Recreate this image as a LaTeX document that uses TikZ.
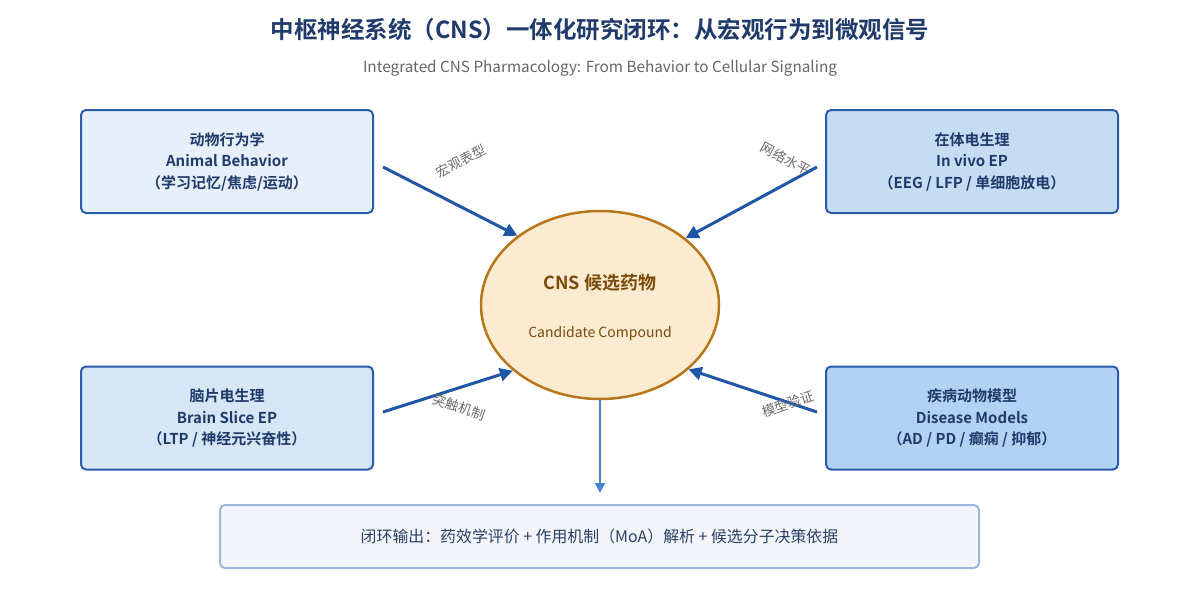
\documentclass[tikz,border=0pt]{standalone}
\usepackage{fontspec}
\setmainfont{Noto Sans CJK SC}[BoldFont={* Bold}]
\usetikzlibrary{arrows.meta,shapes.geometric}
\definecolor{navy}{HTML}{1F3A6B}
\definecolor{edgeblue}{HTML}{2A5CAA}
\definecolor{arrblue}{HTML}{1F56A8}
\definecolor{downblue}{HTML}{4A86D0}
\definecolor{fTL}{HTML}{E6EFFA}
\definecolor{fTR}{HTML}{C5DCF3}
\definecolor{fBL}{HTML}{D6E6F7}
\definecolor{fBR}{HTML}{B3D1F2}
\definecolor{ellfill}{HTML}{FCEBD0}
\definecolor{ellline}{HTML}{B8761A}
\definecolor{brown}{HTML}{7A4A0A}
\definecolor{outfill}{HTML}{F2F6FC}
\definecolor{outline}{HTML}{9BB5DC}
\definecolor{outtext}{HTML}{2A3F66}
\tikzset{
  modbox/.style={draw=edgeblue, line width=2pt, rounded corners=5pt, minimum width=292pt, minimum height=103pt, align=center, text=navy, font=\bfseries\fontsize{15}{21.5}\selectfont, inner sep=0pt},
  flow/.style={draw=arrblue, line width=3pt, -{Triangle[length=13pt,width=13pt]}},
  elabel/.style={text=gray!85!black, font=\fontsize{13.5}{15}\selectfont, inner sep=1pt}
}
\begin{document}
\begin{tikzpicture}[x=1pt,y=-1pt]
\useasboundingbox (0,0) rectangle (1200,600);
\fill[white] (0,0) rectangle (1200,600);
\node[text=navy, font=\bfseries\fontsize{23.5}{27}\selectfont] (title) at (600,30) {中枢神经系统（CNS）一体化研究闭环：从宏观行为到微观信号};
\node[text=gray!80!black, font=\fontsize{15.3}{18}\selectfont] (sub) at (600,68) {Integrated CNS Pharmacology: From Behavior to Cellular Signaling};

\node[modbox, fill=fTL] (tl) at (227,161.5) {动物行为学\\Animal Behavior\\（学习记忆/焦虑/运动）};
\node[modbox, fill=fTR] (tr) at (972,161.5) {在体电生理\\In vivo EP\\（EEG / LFP / 单细胞放电）};
\node[modbox, fill=fBL] (bl) at (227,418) {脑片电生理\\Brain Slice EP\\（LTP / 神经元兴奋性）};
\node[modbox, fill=fBR] (br) at (972,418) {疾病动物模型\\Disease Models\\（AD / PD / 癫痫 / 抑郁）};

\node[ellipse, draw=ellline, line width=2.5pt, fill=ellfill, minimum width=238pt, minimum height=188pt, inner sep=0pt] (c) at (600,305) {};
\node[text=brown, font=\bfseries\fontsize{18}{20}\selectfont] (ct) at (600,283) {CNS 候选药物};
\node[text=brown, font=\fontsize{14}{16}\selectfont] (cs) at (600,334) {Candidate Compound};

\coordinate (stl) at (383,167);
\coordinate (str) at (817,167);
\coordinate (sbl) at (383,412);
\coordinate (sbr) at (817,412);
\draw[flow] (stl) -- (c.140.5);
\draw[flow] (str) -- (c.38);
\draw[flow] (sbl) -- (c.217);
\draw[flow] (sbr) -- (c.324);

\node[elabel, rotate=28] (l1) at (461,161) {宏观表型};
\node[elabel, rotate=-28] (l2) at (786,159) {网络水平};
\node[elabel, rotate=-19] (l3) at (459,407) {突触机制};
\node[elabel, rotate=19] (l4) at (788,404) {模型验证};

\node[draw=outline, line width=2pt, fill=outfill, rounded corners=5pt, minimum width=759pt, minimum height=63pt, text=outtext, font=\fontsize{15.9}{18}\selectfont, inner sep=0pt] (out) at (599.5,536.5) {闭环输出：药效学评价 + 作用机制（MoA）解析 + 候选分子决策依据};
\coordinate (dend) at (600,493);
\draw[draw=downblue, line width=2.3pt, -{Triangle[length=10pt,width=10pt]}] (c.south) -- (dend);
\end{tikzpicture}
\end{document}
